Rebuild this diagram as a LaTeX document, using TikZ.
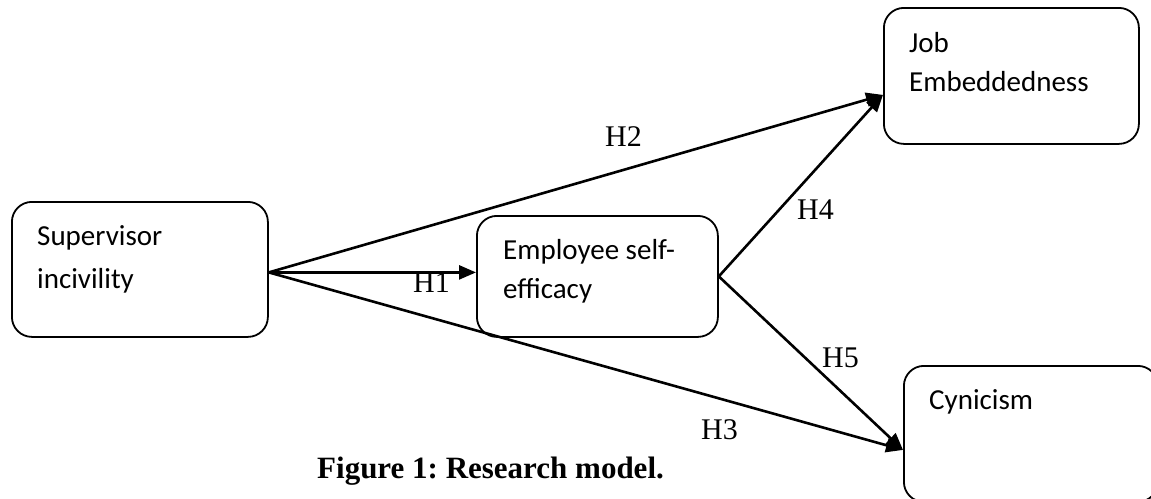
\documentclass[tikz,border=0pt]{standalone}
\usepackage{fontspec}
\setmainfont{Liberation Serif}
\newfontfamily\calibfont{Carlito}
\usetikzlibrary{arrows.meta,calc}
\frenchspacing
\tikzset{
  box/.style={draw, line width=1.8pt, rounded corners=20pt, anchor=north west, inner sep=0pt},
  boxtext/.style={anchor=base west, inner sep=0pt, font=\calibfont\fontsize{29}{34}\selectfont},
  hlabel/.style={anchor=base west, inner sep=0pt, font=\fontsize{30}{34}\selectfont},
  conn/.style={line width=2.6pt, -{Triangle[length=17pt,width=14pt]}},
  caption/.style={anchor=base west, inner sep=0pt, font=\bfseries\fontsize{31}{36}\selectfont}
}
\begin{document}
\begin{tikzpicture}[x=1pt,y=-1pt]
\useasboundingbox (0,0) rectangle (1151,498);
% boxes
\node[box, minimum width=256pt, minimum height=135pt] (sup) at (11,201) {};
\node[box, minimum width=241pt, minimum height=121pt] (emp) at (476,215) {};
\node[box, minimum width=255pt, minimum height=136pt] (job) at (883,7) {};
\node[box, minimum width=254pt, minimum height=136pt] (cyn) at (903,365) {};
% box texts
\node[boxtext] (t1) at (37,245) {Supervisor};
\node[boxtext] (t2) at (37,288) {incivility};
\node[boxtext] (t3) at (503,259) {Employee self-};
\node[boxtext] (t4) at (503,298) {efficacy};
\node[boxtext] (t5) at (909,52) {Job};
\node[boxtext] (t6) at (909,91) {Embeddedness};
\node[boxtext] (t7) at (929,409) {Cynicism};
% anchor points
\coordinate (s) at ([yshift=-3pt]sup.east);
\coordinate (jt) at ([yshift=-19pt]job.west);
\coordinate (ct) at ([yshift=-16pt]cyn.west);
% connectors
\draw[conn] (s) -- (s -| emp.west);
\draw[conn] (s) -- (jt);
\draw[conn] (s) -- (ct);
\draw[conn] (emp.east) -- (jt);
\draw[conn] (emp.east) -- (ct);
% labels
\node[hlabel] (h1) at (413,292) {H1};
\node[hlabel] (h2) at (605,146) {H2};
\node[hlabel] (h3) at (701,439) {H3};
\node[hlabel] (h4) at (797,219) {H4};
\node[hlabel] (h5) at (822,367) {H5};
% caption
\node[caption] (cap) at (317,478) {Figure 1: Research model.};
\end{tikzpicture}
\end{document}
